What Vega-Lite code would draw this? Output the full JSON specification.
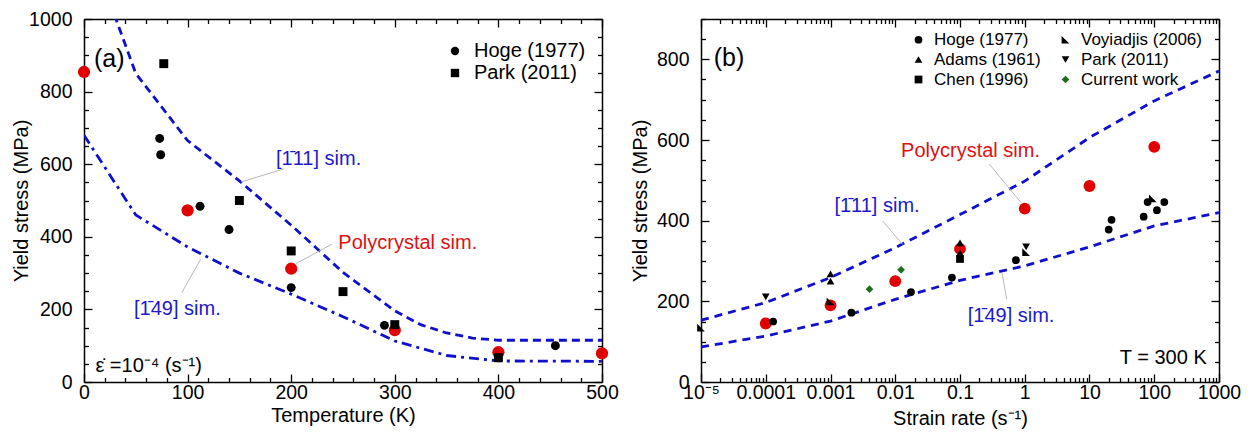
{
  "$schema": "https://vega.github.io/schema/vega-lite/v6.json",
  "background": "white",
  "padding": {"left": 11, "top": 9, "right": 2, "bottom": 2},
  "spacing": 11,
  "config": {
    "font": "Liberation Sans",
    "view": {"stroke": null},
    "axis": {
      "grid": false,
      "domainColor": "black",
      "domainWidth": 1.5,
      "tickColor": "black",
      "tickWidth": 1.3,
      "labelColor": "black",
      "titleColor": "black",
      "labelFont": "Liberation Sans",
      "titleFont": "Liberation Sans",
      "labelFontSize": 19.5,
      "titleFontSize": 20,
      "titleFontWeight": "normal",
      "labelFlush": false,
      "labelOverlap": false
    },
    "legend": {"labelFont": "Liberation Sans", "labelColor": "black"}
  },
  "resolve": {
    "scale": {"shape": "independent", "color": "independent", "strokeDash": "independent", "x": "independent", "y": "independent"},
    "legend": {"shape": "independent", "color": "independent"}
  },
  "hconcat": [
    {
      "width": 518,
      "height": 363,
      "resolve": {"axis": {"x": "independent", "y": "independent"}},
      "layer": [
        {
          "data": {"values": [
            {"series": "111", "T": 25, "S": 1045}, {"series": "111", "T": 50, "S": 850}, {"series": "111", "T": 100, "S": 665},
            {"series": "111", "T": 150, "S": 554}, {"series": "111", "T": 200, "S": 432}, {"series": "111", "T": 250, "S": 302},
            {"series": "111", "T": 300, "S": 196}, {"series": "111", "T": 325, "S": 158}, {"series": "111", "T": 350, "S": 135},
            {"series": "111", "T": 375, "S": 121}, {"series": "111", "T": 400, "S": 115}, {"series": "111", "T": 500, "S": 115},
            {"series": "149", "T": 0, "S": 680}, {"series": "149", "T": 50, "S": 460}, {"series": "149", "T": 100, "S": 372},
            {"series": "149", "T": 150, "S": 300}, {"series": "149", "T": 200, "S": 242}, {"series": "149", "T": 250, "S": 180},
            {"series": "149", "T": 300, "S": 113}, {"series": "149", "T": 350, "S": 73}, {"series": "149", "T": 400, "S": 58},
            {"series": "149", "T": 500, "S": 57}
          ]},
          "mark": {"type": "line", "clip": true, "strokeWidth": 2.8, "color": "#1010cc"},
          "encoding": {
            "x": {"field": "T", "type": "quantitative", "scale": {"domain": [0, 500], "nice": false, "zero": false},
              "axis": {"orient": "top", "labels": false, "title": null,
                "values": [0,20,40,60,80,100,120,140,160,180,200,220,240,260,280,300,320,340,360,380,400,420,440,460,480,500],
                "tickSize": {"condition": {"test": "datum.value % 100 === 0", "value": -8}, "value": -4.5}}},
            "y": {"field": "S", "type": "quantitative", "scale": {"domain": [0, 1000], "nice": false},
              "axis": {"orient": "right", "labels": false, "title": null,
                "values": [0,50,100,150,200,250,300,350,400,450,500,550,600,650,700,750,800,850,900,950,1000],
                "tickSize": {"condition": {"test": "datum.value % 200 === 0", "value": -8}, "value": -4.5}}},
            "strokeDash": {"field": "series", "type": "nominal", "scale": {"domain": ["111", "149"], "range": [[8, 5], [10, 5, 3, 5]]}, "legend": null}
          }
        },
        {
          "data": {"values": [
            {"T": 0, "S": 854}, {"T": 100, "S": 473}, {"T": 200, "S": 312}, {"T": 300, "S": 143}, {"T": 400, "S": 82}, {"T": 500, "S": 79}
          ]},
          "mark": {"type": "point", "filled": true, "shape": "circle", "size": 150, "color": "#e00000", "opacity": 1},
          "encoding": {
            "x": {"field": "T", "type": "quantitative", "axis": null},
            "y": {"field": "S", "type": "quantitative", "axis": null}
          }
        },
        {
          "data": {"values": [
            {"src": "Hoge (1977)", "T": 73, "S": 671}, {"src": "Hoge (1977)", "T": 74, "S": 626}, {"src": "Hoge (1977)", "T": 112, "S": 484},
            {"src": "Hoge (1977)", "T": 140, "S": 420}, {"src": "Hoge (1977)", "T": 200, "S": 260}, {"src": "Hoge (1977)", "T": 290, "S": 156},
            {"src": "Hoge (1977)", "T": 455, "S": 100},
            {"src": "Park (2011)", "T": 77, "S": 877}, {"src": "Park (2011)", "T": 150, "S": 500}, {"src": "Park (2011)", "T": 200, "S": 361},
            {"src": "Park (2011)", "T": 250, "S": 249}, {"src": "Park (2011)", "T": 300, "S": 158}, {"src": "Park (2011)", "T": 400, "S": 67}
          ]},
          "mark": {"type": "point", "filled": true, "size": 80, "color": "black", "opacity": 1},
          "encoding": {
            "x": {"field": "T", "type": "quantitative",
              "axis": {"orient": "bottom", "title": "Temperature (K)", "labelPadding": 9, "titlePadding": 0,
                "values": [0,20,40,60,80,100,120,140,160,180,200,220,240,260,280,300,320,340,360,380,400,420,440,460,480,500],
                "labelExpr": "datum.value % 100 === 0 ? '' + datum.value : ''",
                "tickSize": {"condition": {"test": "datum.value % 100 === 0", "value": -8}, "value": -4.5}}},
            "y": {"field": "S", "type": "quantitative",
              "axis": {"orient": "left", "title": "Yield stress (MPa)", "labelPadding": 20, "titlePadding": -3,
                "values": [0,50,100,150,200,250,300,350,400,450,500,550,600,650,700,750,800,850,900,950,1000],
                "labelExpr": "datum.value % 200 === 0 ? '' + datum.value : ''",
                "tickSize": {"condition": {"test": "datum.value % 200 === 0", "value": -8}, "value": -4.5}}},
            "shape": {"field": "src", "type": "nominal",
              "scale": {"domain": ["Hoge (1977)", "Park (2011)"], "range": ["circle", "square"]},
              "legend": {"title": null, "orient": "none", "legendX": 361, "legendY": 22, "padding": 0,
                "labelFontSize": 20, "labelOffset": 9, "symbolSize": 70, "symbolFillColor": "black",
                "symbolStrokeColor": "black", "symbolStrokeWidth": 0, "rowPadding": 2}}
          }
        },
        {
          "data": {"values": [
            {"T1": 193, "S1": 587, "T2": 151.5, "S2": 551},
            {"T1": 239.4, "S1": 380, "T2": 204.6, "S2": 326},
            {"T1": 94.3, "S1": 246, "T2": 112.6, "S2": 338}
          ]},
          "mark": {"type": "rule", "color": "#b8b8b8", "strokeWidth": 1},
          "encoding": {
            "x": {"field": "T1", "type": "quantitative", "axis": null},
            "y": {"field": "S1", "type": "quantitative", "axis": null},
            "x2": {"field": "T2"},
            "y2": {"field": "S2"}
          }
        },
        {
          "data": {"values": [
            {"T": 185.3, "S": 614, "label": "[1\u030411] sim."},
            {"T": 48.3, "S": 201, "label": "[1\u030449] sim."}
          ]},
          "mark": {"type": "text", "align": "left", "baseline": "middle", "font": "Liberation Sans", "fontSize": 20, "color": "#1a1acc"},
          "encoding": {
            "x": {"field": "T", "type": "quantitative", "axis": null},
            "y": {"field": "S", "type": "quantitative", "axis": null},
            "text": {"field": "label"}
          }
        },
        {
          "data": {"values": [
            {"T": 245.5, "S": 384, "label": "Polycrystal sim."}
          ]},
          "mark": {"type": "text", "align": "left", "baseline": "middle", "font": "Liberation Sans", "fontSize": 20, "color": "#dd1111"},
          "encoding": {
            "x": {"field": "T", "type": "quantitative", "axis": null},
            "y": {"field": "S", "type": "quantitative", "axis": null},
            "text": {"field": "label"}
          }
        },
        {
          "data": {"values": [
            {"T": 11, "S": 44, "label": "\u03b5\u0307 =10\u207b\u2074 (s\u207b\u00b9)"}
          ]},
          "mark": {"type": "text", "align": "left", "baseline": "middle", "font": "Liberation Sans", "fontSize": 20, "color": "black"},
          "encoding": {
            "x": {"field": "T", "type": "quantitative", "axis": null},
            "y": {"field": "S", "type": "quantitative", "axis": null},
            "text": {"field": "label"}
          }
        },
        {
          "data": {"values": [
            {"T": 9.7, "S": 890, "label": "(a)"}
          ]},
          "mark": {"type": "text", "align": "left", "baseline": "middle", "font": "Liberation Sans", "fontSize": 25, "color": "black"},
          "encoding": {
            "x": {"field": "T", "type": "quantitative", "axis": null},
            "y": {"field": "S", "type": "quantitative", "axis": null},
            "text": {"field": "label"}
          }
        }
      ]
    },
    {
      "width": 518,
      "height": 363,
      "resolve": {"axis": {"x": "independent", "y": "independent"}},
      "layer": [
        {
          "data": {"values": [
            {"series": "111", "r": 0.00001, "S": 153}, {"series": "111", "r": 0.0001, "S": 197}, {"series": "111", "r": 0.001, "S": 259},
            {"series": "111", "r": 0.01, "S": 333}, {"series": "111", "r": 0.1, "S": 415}, {"series": "111", "r": 1, "S": 498},
            {"series": "111", "r": 10, "S": 606}, {"series": "111", "r": 100, "S": 697}, {"series": "111", "r": 1000, "S": 771},
            {"series": "149", "r": 0.00001, "S": 87}, {"series": "149", "r": 0.0001, "S": 114}, {"series": "149", "r": 0.001, "S": 151},
            {"series": "149", "r": 0.01, "S": 205}, {"series": "149", "r": 0.1, "S": 252}, {"series": "149", "r": 1, "S": 288},
            {"series": "149", "r": 10, "S": 335}, {"series": "149", "r": 100, "S": 387}, {"series": "149", "r": 1000, "S": 420}
          ]},
          "mark": {"type": "line", "clip": true, "strokeWidth": 2.8, "color": "#1010cc", "strokeDash": [8, 6]},
          "encoding": {
            "x": {"field": "r", "type": "quantitative", "scale": {"type": "log", "domain": [0.00001, 1000], "nice": false},
              "axis": {"orient": "top", "labels": false, "title": null,
                "values": [0.00001,0.00002,0.00003,0.00004,0.00005,0.00006,0.00007,0.00008,0.00009,
                  0.0001,0.0002,0.0003,0.0004,0.0005,0.0006,0.0007,0.0008,0.0009,
                  0.001,0.002,0.003,0.004,0.005,0.006,0.007,0.008,0.009,
                  0.01,0.02,0.03,0.04,0.05,0.06,0.07,0.08,0.09,
                  0.1,0.2,0.3,0.4,0.5,0.6,0.7,0.8,0.9,
                  1,2,3,4,5,6,7,8,9,10,20,30,40,50,60,70,80,90,100,200,300,400,500,600,700,800,900,1000],
                "tickSize": {"condition": {"test": "abs(log(datum.value)/LN10 - round(log(datum.value)/LN10)) < 0.001", "value": -8}, "value": -4.5}}},
            "y": {"field": "S", "type": "quantitative", "scale": {"domain": [0, 900], "nice": false},
              "axis": {"orient": "right", "labels": false, "title": null,
                "values": [0,50,100,150,200,250,300,350,400,450,500,550,600,650,700,750,800,850,900],
                "tickSize": {"condition": {"test": "datum.value % 200 === 0", "value": -8}, "value": -4.5}}},
            "detail": {"field": "series", "type": "nominal"}
          }
        },
        {
          "data": {"values": [
            {"r": 0.0001, "S": 145}, {"r": 0.001, "S": 190}, {"r": 0.01, "S": 250}, {"r": 0.1, "S": 330},
            {"r": 1, "S": 430}, {"r": 10, "S": 486}, {"r": 100, "S": 583}
          ]},
          "mark": {"type": "point", "filled": true, "shape": "circle", "size": 140, "color": "#e00000", "opacity": 1},
          "encoding": {
            "x": {"field": "r", "type": "quantitative", "axis": null},
            "y": {"field": "S", "type": "quantitative", "axis": null}
          }
        },
        {
          "data": {"values": [
            {"src": "Hoge (1977)", "r": 0.00013, "S": 150}, {"src": "Hoge (1977)", "r": 0.0021, "S": 172}, {"src": "Hoge (1977)", "r": 0.0175, "S": 223},
            {"src": "Hoge (1977)", "r": 0.075, "S": 259}, {"src": "Hoge (1977)", "r": 0.73, "S": 302}, {"src": "Hoge (1977)", "r": 19.8, "S": 378},
            {"src": "Hoge (1977)", "r": 21.9, "S": 402}, {"src": "Hoge (1977)", "r": 68.7, "S": 410}, {"src": "Hoge (1977)", "r": 79, "S": 446},
            {"src": "Hoge (1977)", "r": 110, "S": 426}, {"src": "Hoge (1977)", "r": 143, "S": 446},
            {"src": "Adams (1961)", "r": 0.001, "S": 268}, {"src": "Adams (1961)", "r": 0.001, "S": 250},
            {"src": "Adams (1961)", "r": 0.1, "S": 345}, {"src": "Adams (1961)", "r": 0.1, "S": 320},
            {"src": "Chen (1996)", "r": 0.1, "S": 305},
            {"src": "Voyiadjis (2006)", "r": 0.00001, "S": 135}, {"src": "Voyiadjis (2006)", "r": 0.001, "S": 200},
            {"src": "Voyiadjis (2006)", "r": 1.05, "S": 322}, {"src": "Voyiadjis (2006)", "r": 95, "S": 455},
            {"src": "Park (2011)", "r": 0.0001, "S": 211}, {"src": "Park (2011)", "r": 1.05, "S": 335},
            {"src": "Current work", "r": 0.004, "S": 230}, {"src": "Current work", "r": 0.0123, "S": 278}
          ]},
          "mark": {"type": "point", "filled": true, "size": 60, "opacity": 1},
          "encoding": {
            "x": {"field": "r", "type": "quantitative",
              "axis": {"orient": "bottom", "title": "Strain rate (s\u207b\u00b9)", "labelPadding": 9, "titlePadding": 3,
                "values": [0.00001,0.00002,0.00003,0.00004,0.00005,0.00006,0.00007,0.00008,0.00009,
                  0.0001,0.0002,0.0003,0.0004,0.0005,0.0006,0.0007,0.0008,0.0009,
                  0.001,0.002,0.003,0.004,0.005,0.006,0.007,0.008,0.009,
                  0.01,0.02,0.03,0.04,0.05,0.06,0.07,0.08,0.09,
                  0.1,0.2,0.3,0.4,0.5,0.6,0.7,0.8,0.9,
                  1,2,3,4,5,6,7,8,9,10,20,30,40,50,60,70,80,90,100,200,300,400,500,600,700,800,900,1000],
                "labelExpr": "datum.value == 0.00001 ? '10\u207b\u2075' : (abs(log(datum.value)/LN10 - round(log(datum.value)/LN10)) < 0.001 ? '' + datum.value : '')",
                "tickSize": {"condition": {"test": "abs(log(datum.value)/LN10 - round(log(datum.value)/LN10)) < 0.001", "value": -8}, "value": -4.5}}},
            "y": {"field": "S", "type": "quantitative",
              "axis": {"orient": "left", "title": "Yield stress (MPa)", "labelPadding": 20, "titlePadding": 6,
                "values": [0,50,100,150,200,250,300,350,400,450,500,550,600,650,700,750,800,850,900],
                "labelExpr": "datum.value % 200 === 0 ? '' + datum.value : ''",
                "tickSize": {"condition": {"test": "datum.value % 200 === 0", "value": -8}, "value": -4.5}}},
            "shape": {"field": "src", "type": "nominal",
              "scale": {"domain": ["Hoge (1977)", "Adams (1961)", "Chen (1996)", "Voyiadjis (2006)", "Park (2011)", "Current work"],
                "range": ["circle", "triangle-up", "square", "M-1,-1L1,1L-1,1Z", "triangle-down", "diamond"]},
              "legend": {"title": null, "orient": "none", "legendX": 209, "legendY": 12, "padding": 0, "columns": 2,
                "labelFontSize": 17, "labelOffset": 7, "symbolSize": 60, "rowPadding": 2, "columnPadding": 16, "symbolStrokeWidth": 0}},
            "color": {"field": "src", "type": "nominal",
              "scale": {"domain": ["Hoge (1977)", "Adams (1961)", "Chen (1996)", "Voyiadjis (2006)", "Park (2011)", "Current work"],
                "range": ["black", "black", "black", "black", "black", "#1f6e1f"]},
              "legend": {"title": null, "orient": "none", "legendX": 209, "legendY": 12, "padding": 0, "columns": 2,
                "labelFontSize": 17, "labelOffset": 7, "symbolSize": 60, "rowPadding": 2, "columnPadding": 16, "symbolStrokeWidth": 0}}
          }
        },
        {
          "data": {"values": [
            {"r1": 0.284, "S1": 540, "r2": 0.875, "S2": 445},
            {"r1": 0.0064, "S1": 399, "r2": 0.013, "S2": 341},
            {"r1": 0.526, "S1": 205, "r2": 0.446, "S2": 271}
          ]},
          "mark": {"type": "rule", "color": "#b8b8b8", "strokeWidth": 1},
          "encoding": {
            "x": {"field": "r1", "type": "quantitative", "axis": null},
            "y": {"field": "S1", "type": "quantitative", "axis": null},
            "x2": {"field": "r2"},
            "y2": {"field": "S2"}
          }
        },
        {
          "data": {"values": [
            {"r": 0.00115, "S": 436, "label": "[1\u030411] sim."},
            {"r": 0.1315, "S": 164, "label": "[1\u030449] sim."}
          ]},
          "mark": {"type": "text", "align": "left", "baseline": "middle", "font": "Liberation Sans", "fontSize": 20, "color": "#1a1acc"},
          "encoding": {
            "x": {"field": "r", "type": "quantitative", "axis": null},
            "y": {"field": "S", "type": "quantitative", "axis": null},
            "text": {"field": "label"}
          }
        },
        {
          "data": {"values": [
            {"r": 0.0123, "S": 573, "label": "Polycrystal sim."}
          ]},
          "mark": {"type": "text", "align": "left", "baseline": "middle", "font": "Liberation Sans", "fontSize": 20, "color": "#dd1111"},
          "encoding": {
            "x": {"field": "r", "type": "quantitative", "axis": null},
            "y": {"field": "S", "type": "quantitative", "axis": null},
            "text": {"field": "label"}
          }
        },
        {
          "data": {"values": [
            {"r": 0.0000157, "S": 803, "label": "(b)"}
          ]},
          "mark": {"type": "text", "align": "left", "baseline": "middle", "font": "Liberation Sans", "fontSize": 25, "color": "black"},
          "encoding": {
            "x": {"field": "r", "type": "quantitative", "axis": null},
            "y": {"field": "S", "type": "quantitative", "axis": null},
            "text": {"field": "label"}
          }
        },
        {
          "data": {"values": [
            {"r": 647, "S": 60, "label": "T = 300 K"}
          ]},
          "mark": {"type": "text", "align": "right", "baseline": "middle", "font": "Liberation Sans", "fontSize": 20, "color": "black"},
          "encoding": {
            "x": {"field": "r", "type": "quantitative", "axis": null},
            "y": {"field": "S", "type": "quantitative", "axis": null},
            "text": {"field": "label"}
          }
        }
      ]
    }
  ]
}
